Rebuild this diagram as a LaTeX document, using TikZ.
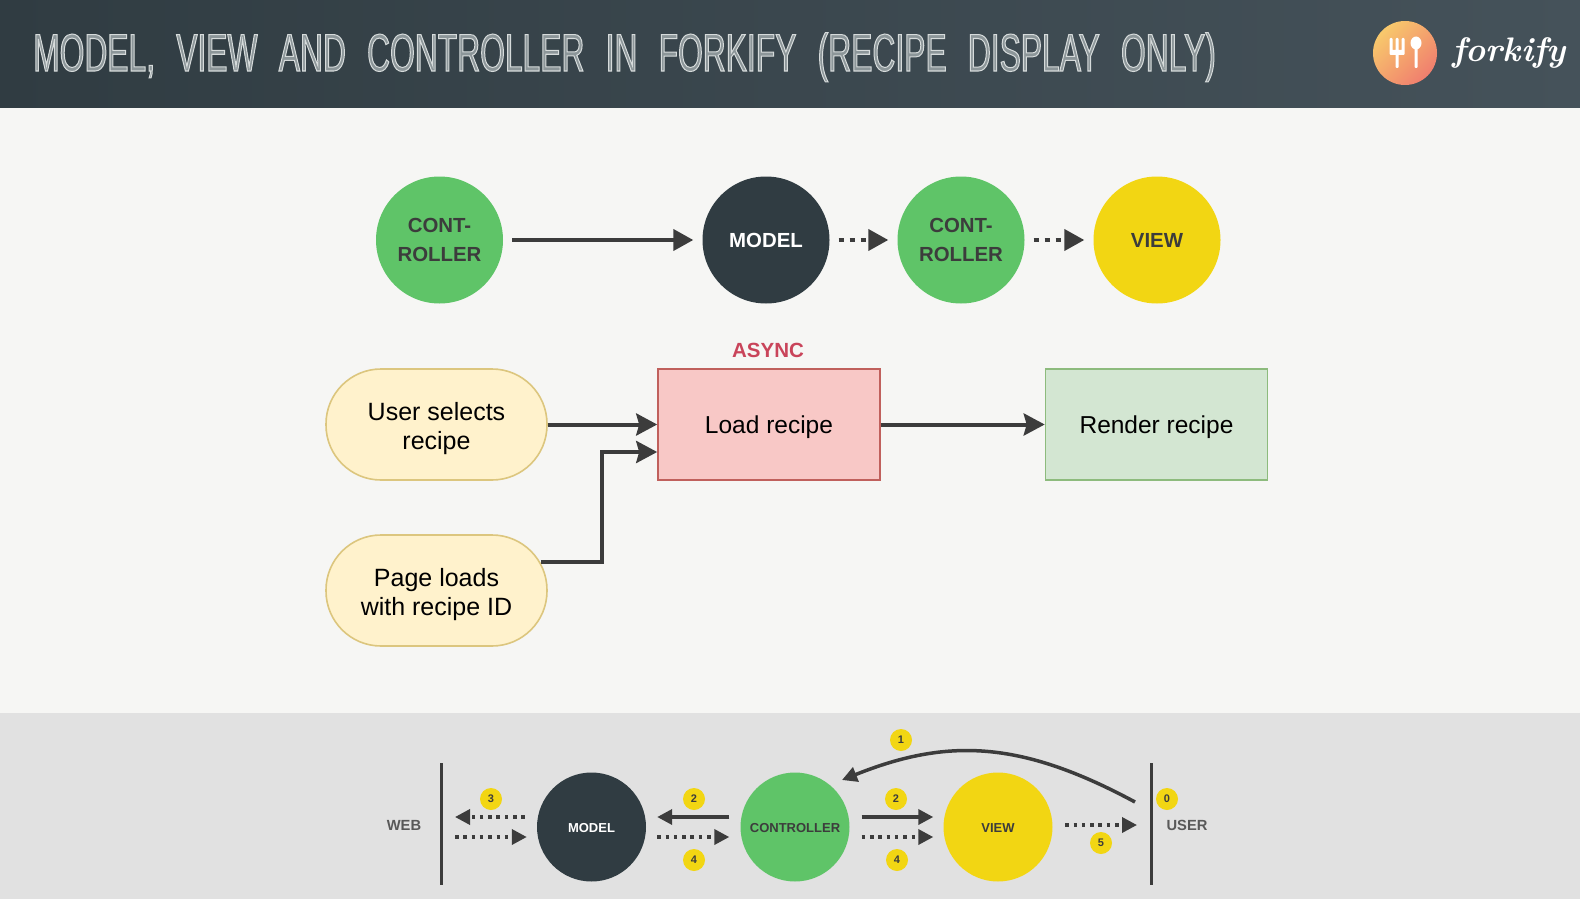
\documentclass[tikz,border=0pt]{standalone}
\usepackage{fontspec}
\setmainfont{Liberation Sans}
\newfontfamily\titlefont[FakeStretch=0.6,WordSpace=2.4]{Liberation Sans}
\newfontfamily\logofont{Latin Modern Roman}
\usetikzlibrary{arrows.meta}
\definecolor{ink}{HTML}{3C3C3C}
\definecolor{slate}{HTML}{303C42}
\definecolor{slatelight}{HTML}{45525A}
\definecolor{leaf}{HTML}{5FC468}
\definecolor{sun}{HTML}{F2D613}
\definecolor{paper}{HTML}{F6F6F4}
\definecolor{footbar}{HTML}{E1E1E1}
\definecolor{peach}{HTML}{F8C96C}
\definecolor{coral}{HTML}{F07E6E}
\definecolor{cream}{HTML}{FFF2CC}
\definecolor{creamline}{HTML}{DCC67E}
\definecolor{rose}{HTML}{F8C8C6}
\definecolor{roseline}{HTML}{C0605C}
\definecolor{mint}{HTML}{D3E6D2}
\definecolor{mintline}{HTML}{8DBB7D}
\definecolor{asyncred}{HTML}{C9445A}
\newcommand{\hollow}[1]{\special{pdf:code 2 Tr 1 w 0.84 0.86 0.86 RG 0.55 0.59 0.6 rg}#1\special{pdf:code 0 Tr 0 w 0 0 0 rg 0 0 0 RG}}
\newcommand{\pillpad}{\rule{0pt}{26.2pt}}
\begin{document}
\begin{tikzpicture}[x=1pt,y=-1pt,
bigc/.style={circle,minimum size=127,inner sep=0,align=center,font=\fontsize{20.4}{29}\selectfont\bfseries},
smallc/.style={circle,minimum size=109,inner sep=0,font=\fontsize{13}{15}\selectfont\bfseries,execute at begin node=\rule{0pt}{11.5pt}},
pill/.style={draw=creamline,line width=1.6,rounded corners=55,minimum width=221,minimum height=111,fill=cream,align=center,font=\fontsize{25}{29}\selectfont},
block/.style 2 args={draw=#2,line width=1.6,fill=#1,minimum width=222,minimum height=111,font=\fontsize{24.5}{29}\selectfont,execute at begin node=\rule{0pt}{24pt}},
badge/.style={circle,fill=sun,minimum size=22,inner sep=0,text=ink,font=\fontsize{11}{13}\selectfont\bfseries},
side/.style={text=ink!85!white,font=\fontsize{14.7}{17}\selectfont\bfseries},
bar/.style={ink,line width=3},
flow/.style={ink,line width=4,-{Triangle[length=20,width=21]}},
notched/.style={ink,line width=4,-{Stealth[length=21,width=22,inset=3]}},
dots/.style={ink,line width=4,dash pattern=on 5 off 6,-{Triangle[length=20,width=21]}},
miniflow/.style={ink,line width=3.5,-{Triangle[length=15,width=15]}},
minidots/.style={ink,line width=3.5,dash pattern=on 3.5 off 4.8,-{Triangle[length=15,width=15]}}]
\useasboundingbox (0,0) rectangle (1580,899);
\fill [paper] (0,0) rectangle (1580,899);
\shade [left color=slate,right color=slatelight] (0,0) rectangle (1580,107.5);
\fill [footbar] (0,712.5) rectangle (1580,899);

\node [anchor=base west,inner sep=0] (heading) at (33,71) {\fontsize{53}{60}\titlefont\hollow{MODEL, VIEW AND CONTROLLER IN FORKIFY (RECIPE DISPLAY ONLY)}};
\shade [top color=peach,bottom color=coral,shading angle=45] (1405,53) circle (32);
\fill [white,rounded corners=1] (1389.5,38) rectangle (1392.5,54) (1395.5,38) rectangle (1398.5,68) (1401.5,38) rectangle (1404.5,54) (1389.5,50) rectangle (1404.5,55);
\fill [white] (1416,43) ellipse (5.5 and 6.5);
\fill [white,rounded corners=1] (1414.5,43) rectangle (1417.5,68);
\node [text=white,inner sep=0] (logotext) at (1509,53) {\fontsize{34}{40}\logofont\bfseries\itshape forkify};

\node [bigc,fill=leaf,text=ink] (control1) at (439.5,240) {CONT-\\ROLLER};
\node [bigc,fill=slate,text=white] (model1) at (766,240) {MODEL};
\node [bigc,fill=leaf,text=ink] (control2) at (961,240) {CONT-\\ROLLER};
\node [bigc,fill=sun,text=ink] (view1) at (1157,240) {VIEW};
\draw [flow,shorten <=9,shorten >=9] (control1)--(model1);
\draw [dots,shorten <=9,shorten >=9] (model1)--(control2);
\draw [dots,shorten <=9,shorten >=9] (control2)--(view1);

\node [pill] (select) at (436.5,424.5) {\pillpad User selects\\recipe};
\node [pill] (pageload) at (436.5,590.5) {\pillpad Page loads\\with recipe ID};
\node [block={rose}{roseline}] (load) at (769,424.5) {Load recipe};
\node [block={mint}{mintline}] (render) at (1156.5,424.5) {Render recipe};
\node [text=asyncred,font=\fontsize{20.5}{24}\selectfont\bfseries] (async) at (768,350) {ASYNC};
\coordinate (bend) at (602,452);
\draw [notched] (select)--(load);
\draw [notched] (load)--(render);
\draw [notched] ([shift={(-7,-28.5)}]pageload.east) -| (bend) -- ([yshift=-27.5]load.west);

\node [smallc,fill=slate,text=white] (model2) at (591.5,827) {MODEL};
\node [smallc,fill=leaf,text=ink] (control3) at (795,827) {CONTROLLER};
\node [smallc,fill=sun,text=ink] (view2) at (998,827) {VIEW};
\node [side] (web) at (404,825) {WEB};
\node [side] (user) at (1187,825) {USER};
\coordinate (webtop) at (441,763);
\coordinate (webmid) at (441,827);
\coordinate (webend) at (441,885);
\coordinate (usertop) at (1151,763);
\coordinate (usermid) at (1151,825);
\coordinate (userend) at (1151,885);
\coordinate (backfrom) at (1135,802);
\coordinate (backto) at (842,780);
\draw [bar] (webtop)--(webend);
\draw [bar] (usertop)--(userend);
\draw [minidots,shorten <=12,shorten >=14] ([yshift=10]model2.west)--([yshift=10]webmid);
\draw [minidots,shorten <=14,shorten >=10] ([yshift=-10]webmid)--([yshift=-10]model2.west);
\draw [miniflow,shorten <=11,shorten >=11] ([yshift=10]control3.west)--([yshift=10]model2.east);
\draw [minidots,shorten <=11,shorten >=11] ([yshift=-10]model2.east)--([yshift=-10]control3.west);
\draw [miniflow,shorten <=12,shorten >=10] ([yshift=10]control3.east)--([yshift=10]view2.west);
\draw [minidots,shorten <=12,shorten >=10] ([yshift=-10]control3.east)--([yshift=-10]view2.west);
\draw [minidots,shorten <=12.5,shorten >=14] ([yshift=2]view2.east)--(usermid);
\draw [miniflow] (backfrom) .. controls (1020,740) and (947,738) .. (backto);

\foreach \xx/\yy/\num/\id in {491/799/3/a,694/799/2/b,694/860/4/c,901/740/1/d,896/799/2/e,897/860/4/f,1101/843/5/g,1167/799/0/h}
{\node [badge] (badge-\id) at (\xx,\yy) {\num};}
\end{tikzpicture}
\end{document}
